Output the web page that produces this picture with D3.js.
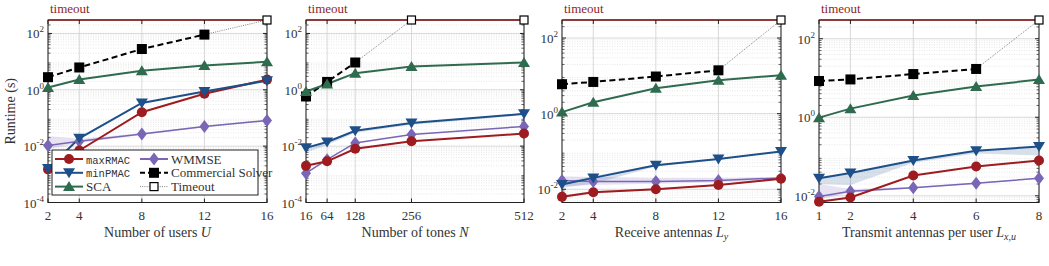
<!DOCTYPE html>
<html><head><meta charset="utf-8">
<script src="https://cdn.jsdelivr.net/npm/d3@7"></script>
<style>body{margin:0;background:#fff}svg{display:block}</style>
</head><body><svg id="c" width="1049" height="266" font-family="'Liberation Serif', 'DejaVu Serif', serif"></svg>
<script>
const TIMEOUT = 300;
// Panel 1: number of users U
const usersX = [2, 4, 8, 12, 16];
const users_maxRMAC = [0.0015, 0.007, 0.16, 0.72, 2.3];
const users_minPMAC = [0.0016, 0.019, 0.34, 0.87, 2.1];
const users_SCA = [1.2, 2.3, 4.7, 7.3, 9.8];
const users_WMMSE = [0.0105, 0.015, 0.027, 0.05, 0.081];
const users_Commercial = [2.8, 6.2, 28, 91, null];
const users_WMMSE_lo = [0.008, 0.013, 0.025, 0.047, 0.076];
const users_WMMSE_hi = [0.023, 0.018, 0.029, 0.053, 0.086];
// Panel 2: number of tones N
const tonesX = [16, 64, 128, 256, 512];
const tones_maxRMAC = [0.002, 0.0029, 0.0081, 0.015, 0.028];
const tones_minPMAC = [0.0087, 0.014, 0.035, 0.066, 0.14];
const tones_SCA = [0.87, 1.6, 3.9, 6.7, 9.3];
const tones_WMMSE = [0.0011, 0.0033, 0.013, 0.026, 0.05];
const tones_Commercial = [0.58, 1.9, 9.3, null, null];
const tones_minPMAC_lo = [0.006, 0.011, 0.03, 0.058, 0.125];
const tones_minPMAC_hi = [0.0095, 0.015, 0.037, 0.069, 0.145];
// Panel 3: receive antennas L_y
const rxX = [2, 4, 8, 12, 16];
const rx_maxRMAC = [0.0063, 0.0083, 0.01, 0.013, 0.019];
const rx_minPMAC = [0.0134, 0.02, 0.043, 0.063, 0.1];
const rx_SCA = [1.1, 2.0, 4.7, 7.7, 10.4];
const rx_WMMSE = [0.017, 0.016, 0.016, 0.017, 0.02];
const rx_Commercial = [6.0, 6.9, 9.6, 14, null];
const rx_minPMAC_lo = [0.011, 0.014, 0.04, 0.06, 0.098];
const rx_minPMAC_hi = [0.015, 0.022, 0.045, 0.065, 0.103];
const rx_WMMSE_lo = [0.012, 0.013, 0.014, 0.015, 0.018];
const rx_WMMSE_hi = [0.022, 0.021, 0.02, 0.02, 0.021];
const rx_maxRMAC_lo = [0.0058, 0.0078, 0.0095, 0.0125, 0.018];
const rx_maxRMAC_hi = [0.0068, 0.0088, 0.0105, 0.0135, 0.02];
// Panel 4: transmit antennas per user L_{x,u}
const txX = [1, 2, 4, 6, 8];
const tx_maxRMAC = [0.0071, 0.0091, 0.033, 0.056, 0.079];
const tx_minPMAC = [0.028, 0.038, 0.079, 0.14, 0.18];
const tx_SCA = [0.98, 1.66, 3.6, 6.1, 9.1];
const tx_WMMSE = [0.0096, 0.013, 0.016, 0.021, 0.028];
const tx_Commercial = [8.4, 9.2, 12.6, 17, null];
const tx_minPMAC_lo = [0.02, 0.019, 0.07, 0.12, 0.107];
const tx_minPMAC_hi = [0.029, 0.039, 0.08, 0.142, 0.182];
const tx_WMMSE_lo = [0.008, 0.012, 0.0155, 0.02, 0.027];
const tx_WMMSE_hi = [0.02, 0.015, 0.017, 0.022, 0.029];

const col = {maxRMAC:"#9e1b1f", minPMAC:"#1d4f89", SCA:"#2f6b4f", WMMSE:"#7966b6", timeout:"#8e1f1f"};
const SERIF = "'Liberation Serif', 'DejaVu Serif', serif";
const MONO = "'Liberation Mono', 'DejaVu Sans Mono', monospace";

const panels = [
  {x0:48, x1:267, xs:usersX, xd:[2,16], yd:[1e-4,TIMEOUT], yt:[-4,-2,0,2],
   s:{maxRMAC:users_maxRMAC,minPMAC:users_minPMAC,SCA:users_SCA,WMMSE:users_WMMSE,Commercial:users_Commercial},
   bands:[["WMMSE",users_WMMSE_lo,users_WMMSE_hi]], label:["Number of users ","U",""], ylab:true, legend:true},
  {x0:306, x1:524, xs:tonesX, xd:[16,512], yd:[1e-4,TIMEOUT], yt:[-4,-2,0,2],
   s:{maxRMAC:tones_maxRMAC,minPMAC:tones_minPMAC,SCA:tones_SCA,WMMSE:tones_WMMSE,Commercial:tones_Commercial},
   bands:[["minPMAC",tones_minPMAC_lo,tones_minPMAC_hi]], label:["Number of tones ","N",""]},
  {x0:562, x1:781, xs:rxX, xd:[2,16], yd:[Math.pow(10,-2.35),TIMEOUT], yt:[-2,0,2],
   s:{maxRMAC:rx_maxRMAC,minPMAC:rx_minPMAC,SCA:rx_SCA,WMMSE:rx_WMMSE,Commercial:rx_Commercial},
   bands:[["minPMAC",rx_minPMAC_lo,rx_minPMAC_hi],["WMMSE",rx_WMMSE_lo,rx_WMMSE_hi],["maxRMAC",rx_maxRMAC_lo,rx_maxRMAC_hi]], label:["Receive antennas ","L","y"]},
  {x0:819, x1:1039, xs:txX, xd:[1,8], yd:[Math.pow(10,-2.17),TIMEOUT], yt:[-2,0,2],
   s:{maxRMAC:tx_maxRMAC,minPMAC:tx_minPMAC,SCA:tx_SCA,WMMSE:tx_WMMSE,Commercial:tx_Commercial},
   bands:[["minPMAC",tx_minPMAC_lo,tx_minPMAC_hi],["WMMSE",tx_WMMSE_lo,tx_WMMSE_hi]], label:["Transmit antennas per user ","L","x,u"]}
];
const pTop=20, pBot=202.5;
const svg = d3.select("#c");

function marker(g, type, x, y, c){
  if(type==="maxRMAC") g.append("circle").attr("cx",x).attr("cy",y).attr("r",5).attr("fill",c);
  else if(type==="minPMAC") g.append("path").attr("d",`M${x-6},${y-4.5}L${x+6},${y-4.5}L${x},${y+5.5}Z`).attr("fill",c);
  else if(type==="SCA") g.append("path").attr("d",`M${x-6},${y+4.5}L${x+6},${y+4.5}L${x},${y-5.5}Z`).attr("fill",c);
  else if(type==="WMMSE") g.append("path").attr("d",`M${x},${y-6.5}L${x+5},${y}L${x},${y+6.5}L${x-5},${y}Z`).attr("fill",c);
  else if(type==="Commercial") g.append("rect").attr("x",x-5).attr("y",y-5).attr("width",10).attr("height",10).attr("fill","#000");
  else if(type==="Timeout") g.append("rect").attr("x",x-4).attr("y",y-4).attr("width",8).attr("height",8).attr("fill","#fff").attr("stroke","#000").attr("stroke-width",1.2);
}
function txt(g){ return g.append("text").style("font-family",SERIF).style("fill","#333"); }

panels.forEach((p,pi)=>{
  const g = svg.append("g");
  const x = d3.scaleLinear().domain(p.xd).range([p.x0,p.x1]);
  const y = d3.scaleLog().domain(p.yd).range([pBot,pTop]);
  const lo = Math.floor(Math.log10(p.yd[0])), hi = Math.ceil(Math.log10(p.yd[1]));
  const minors=[];
  for(let e=lo;e<hi;e++) for(let m=2;m<=9;m++){const v=m*Math.pow(10,e); if(v>p.yd[0]&&v<p.yd[1]) minors.push(v);}
  g.selectAll(".mg").data(minors).enter().append("line").attr("x1",p.x0).attr("x2",p.x1)
    .attr("y1",d=>y(d)).attr("y2",d=>y(d)).attr("stroke","#d8d8d8").attr("stroke-width",0.6).attr("stroke-dasharray","1,1.5");
  const majors = p.yt.map(e=>Math.pow(10,e));
  g.selectAll(".yg").data(majors).enter().append("line").attr("x1",p.x0).attr("x2",p.x1)
    .attr("y1",d=>y(d)).attr("y2",d=>y(d)).attr("stroke","#cfcfcf").attr("stroke-width",0.8);
  g.selectAll(".xg").data(p.xs).enter().append("line").attr("x1",d=>x(d)).attr("x2",d=>x(d))
    .attr("y1",pTop).attr("y2",pBot).attr("stroke","#cfcfcf").attr("stroke-width",0.8);
  p.bands.forEach(([k,l,h])=>{
    const area = d3.area().x((d,i)=>x(p.xs[i])).y0((d,i)=>y(l[i])).y1((d,i)=>y(h[i]));
    g.append("path").datum(l).attr("d",area).attr("fill",col[k]).attr("opacity",0.18);
  });
  const cv = p.s.Commercial;
  const lastIdx = cv.findIndex(v=>v===null);
  const valid = cv.map((v,i)=>[p.xs[i],v]).filter(d=>d[1]!==null);
  if(lastIdx>0){
    const tpts=[[p.xs[lastIdx-1],cv[lastIdx-1]]].concat(p.xs.slice(lastIdx).map(xx=>[xx,TIMEOUT]));
    g.append("path").attr("d",d3.line().x(d=>x(d[0])).y(d=>y(d[1]))(tpts)).attr("fill","none")
      .attr("stroke","#666").attr("stroke-width",0.8).attr("stroke-dasharray","1,1.2");
  }
  const ln = d3.line().x(d=>x(d[0])).y(d=>y(d[1]));
  g.append("path").attr("d",ln(valid)).attr("fill","none").attr("stroke","#000").attr("stroke-width",2).attr("stroke-dasharray","6,3.5");
  ["SCA","WMMSE","maxRMAC","minPMAC"].forEach(k=>{
    const pts = p.s[k].map((v,i)=>[p.xs[i],v]);
    g.append("path").attr("d",ln(pts)).attr("fill","none").attr("stroke",col[k]).attr("stroke-width",k==="WMMSE"?1.5:2);
  });
  g.append("rect").attr("x",p.x0).attr("y",pTop).attr("width",p.x1-p.x0).attr("height",pBot-pTop).attr("fill","none").attr("stroke","#222").attr("stroke-width",1);
  g.append("line").attr("x1",p.x0).attr("x2",p.x1).attr("y1",pTop).attr("y2",pTop).attr("stroke",col.timeout).attr("stroke-width",1.6);
  majors.forEach(v=>{
    g.append("line").attr("x1",p.x0).attr("x2",p.x0+4).attr("y1",y(v)).attr("y2",y(v)).attr("stroke","#222");
    g.append("line").attr("x1",p.x1).attr("x2",p.x1-4).attr("y1",y(v)).attr("y2",y(v)).attr("stroke","#222");
  });
  minors.forEach(v=>{
    g.append("line").attr("x1",p.x0).attr("x2",p.x0+2.5).attr("y1",y(v)).attr("y2",y(v)).attr("stroke","#222").attr("stroke-width",0.7);
    g.append("line").attr("x1",p.x1).attr("x2",p.x1-2.5).attr("y1",y(v)).attr("y2",y(v)).attr("stroke","#222").attr("stroke-width",0.7);
  });
  p.xs.forEach(v=>{
    g.append("line").attr("x1",x(v)).attr("x2",x(v)).attr("y1",pBot).attr("y2",pBot-4).attr("stroke","#222");
    g.append("line").attr("x1",x(v)).attr("x2",x(v)).attr("y1",pTop).attr("y2",pTop+4).attr("stroke","#222");
  });
  ["Commercial","SCA","WMMSE","maxRMAC","minPMAC"].forEach(k=>{
    p.s[k].forEach((v,i)=>{ if(v!==null) marker(g,k,x(p.xs[i]),y(v),col[k]); });
  });
  cv.forEach((v,i)=>{ if(v===null) marker(g,"Timeout",x(p.xs[i]),y(TIMEOUT)); });
  p.xs.forEach(v=>{
    txt(g).attr("x",x(v)).attr("y",pBot+17).attr("text-anchor","middle").attr("font-size",13).text(v);
  });
  p.yt.forEach(e=>{
    const t = txt(g).attr("x",p.x0-4).attr("y",y(Math.pow(10,e))+5).attr("text-anchor","end").attr("font-size",13);
    t.append("tspan").text("10");
    t.append("tspan").attr("dy",-6).attr("font-size",9).text(String(e));
  });
  txt(g).attr("x",p.x0+2).attr("y",pTop-7).attr("font-size",13).style("fill",col.timeout).text("timeout");
  const xl = txt(g).attr("x",(p.x0+p.x1)/2).attr("y",237).attr("text-anchor","middle").attr("font-size",14);
  xl.append("tspan").text(p.label[0]);
  xl.append("tspan").attr("font-style","italic").text(p.label[1]);
  if(p.label[2]) xl.append("tspan").attr("font-style","italic").attr("font-size",10).attr("dy",3).text(p.label[2]);
  if(p.ylab){
    txt(g).attr("transform",`translate(15,${(pTop+pBot)/2}) rotate(-90)`).attr("text-anchor","middle").attr("font-size",14).text("Runtime (s)");
  }
  if(p.legend){
    const L = g.append("g");
    L.append("rect").attr("x",52).attr("y",150).attr("width",206).attr("height",45).attr("fill","#fff").attr("stroke","#222").attr("stroke-width",1);
    const items=[["maxRMAC",0,0,true],["minPMAC",0,1,true],["SCA",0,2,false],["WMMSE",1,0,false],["Commercial",1,1,false],["Timeout",1,2,false]];
    const names={maxRMAC:"maxRMAC",minPMAC:"minPMAC",SCA:"SCA",WMMSE:"WMMSE",Commercial:"Commercial Solver",Timeout:"Timeout"};
    items.forEach(([k,c,r,mono])=>{
      const sx = c===0?55:140, yy = 159+r*13.8;
      const line = L.append("line").attr("x1",sx).attr("x2",sx+28).attr("y1",yy).attr("y2",yy);
      if(k==="Commercial") line.attr("stroke","#000").attr("stroke-width",2).attr("stroke-dasharray","5,3");
      else if(k==="Timeout") line.attr("stroke","#666").attr("stroke-width",0.8).attr("stroke-dasharray","1,1.2");
      else line.attr("stroke",col[k]).attr("stroke-width",2);
      marker(L,k,sx+14,yy,col[k]);
      const t = txt(L).attr("x",sx+31).attr("y",yy+4.5).text(names[k]);
      if(mono) t.style("font-family",MONO).attr("font-size",10.5);
      else t.attr("font-size",13);
    });
  }
});
</script></body></html>
